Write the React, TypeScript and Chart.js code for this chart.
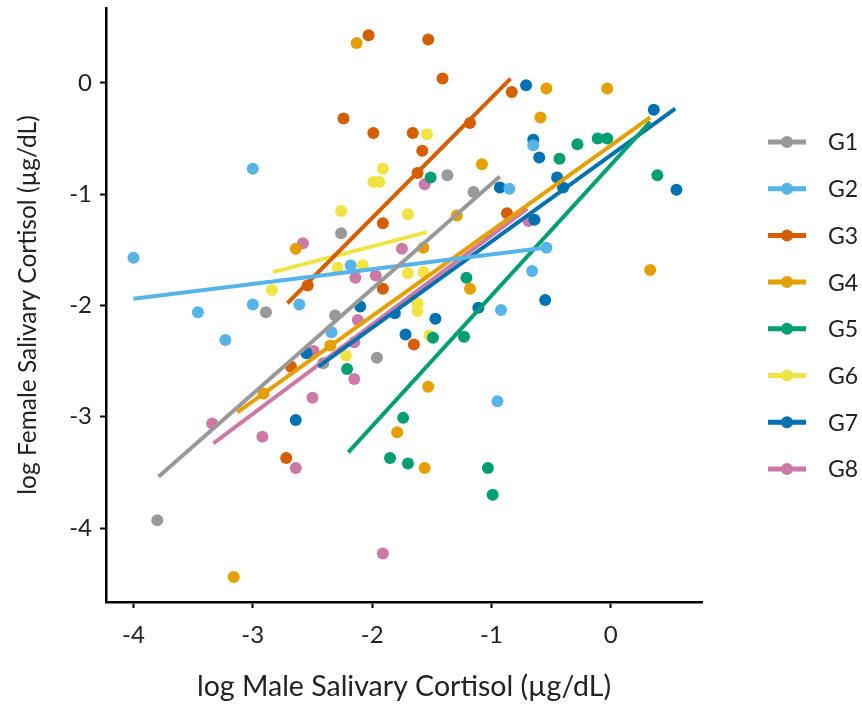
import React, { useEffect, useRef } from "react";
import { Chart, registerables } from "chart.js";

Chart.register(...registerables);

const groups = ["G1", "G2", "G3", "G4", "G5", "G6", "G7", "G8"];
const colors = ["#999999", "#56B4E9", "#D55E00", "#E69F00", "#009E73", "#F0E442", "#0072B2", "#CC79A7"];

const g1X = [-3.80, -2.89, -2.31, -2.41, -2.26, -1.37, -1.15, -1.96];
const g1Y = [-3.93, -2.06, -2.09, -2.52, -1.35, -0.83, -0.98, -2.47];
const g2X = [-3.00, -4.00, -3.46, -3.23, -3.00, -2.61, -2.34, -2.18, -0.85, -0.66, -0.54, -0.92, -0.95, -0.65];
const g2Y = [-0.77, -1.57, -2.06, -2.31, -1.99, -1.99, -2.24, -1.64, -0.95, -1.69, -1.48, -2.04, -2.86, -0.56];
const g3X = [-2.03, -1.53, -1.41, -2.24, -1.99, -1.66, -1.58, -1.18, -0.83, -1.62, -1.91, -0.87, -1.91, -2.54, -2.68, -1.65, -2.72];
const g3Y = [0.43, 0.39, 0.04, -0.32, -0.45, -0.45, -0.61, -0.36, -0.08, -0.81, -1.26, -1.17, -1.85, -1.82, -2.55, -2.35, -3.37];
const g4X = [-2.13, -0.54, -0.03, -0.59, -1.08, -2.64, 0.33, -1.18, -2.35, -2.91, -1.53, -1.79, -1.56, -3.16, -1.29, -1.57];
const g4Y = [0.36, -0.05, -0.05, -0.31, -0.73, -1.49, -1.68, -1.85, -2.36, -2.79, -2.73, -3.14, -3.46, -4.44, -1.19, -1.48];
const g5X = [-0.28, -0.11, -0.03, -0.43, 0.39, -1.51, -1.21, -1.23, -1.49, -2.21, -1.74, -1.85, -1.70, -1.03, -0.99];
const g5Y = [-0.55, -0.50, -0.50, -0.68, -0.83, -0.85, -1.75, -2.28, -2.29, -2.57, -3.01, -3.37, -3.42, -3.46, -3.70];
const g6X = [-2.26, -1.54, -1.91, -1.99, -1.94, -1.70, -2.84, -2.29, -2.08, -1.70, -1.62, -1.62, -1.52, -2.22, -1.57];
const g6Y = [-1.15, -0.46, -0.77, -0.89, -0.89, -1.18, -1.86, -1.66, -1.64, -1.71, -1.98, -2.05, -2.27, -2.45, -1.70];
const g7X = [-0.71, 0.36, -0.65, -0.60, -0.45, -0.40, 0.55, -0.64, -0.93, -0.55, -1.11, -1.47, -1.72, -1.81, -2.10, -2.55, -2.64];
const g7Y = [-0.02, -0.24, -0.51, -0.67, -0.85, -0.94, -0.96, -1.23, -0.94, -1.95, -2.02, -2.12, -2.26, -2.07, -2.01, -2.43, -3.03];
const g8X = [-2.58, -1.56, -1.75, -0.69, -2.14, -1.97, -2.12, -2.15, -2.49, -2.15, -2.50, -3.34, -2.64, -2.92, -1.91];
const g8Y = [-1.44, -0.91, -1.49, -1.24, -1.75, -1.73, -2.13, -2.33, -2.41, -2.66, -2.83, -3.06, -3.46, -3.18, -4.23];

const pointsX = [g1X, g2X, g3X, g4X, g5X, g6X, g7X, g8X];
const pointsY = [g1Y, g2Y, g3Y, g4Y, g5Y, g6Y, g7Y, g8Y];

// regression line end points per group
const fitX0 = [-3.79, -4.00, -2.71, -3.13, -2.20, -2.83, -2.45, -3.33];
const fitY0 = [-3.54, -1.94, -1.98, -2.96, -3.32, -1.70, -2.55, -3.24];
const fitX1 = [-0.93, -0.55, -0.84, 0.33, 0.33, -1.54, 0.54, -0.70];
const fitY1 = [-0.84, -1.48, 0.04, -0.31, -0.35, -1.34, -0.23, -1.13];

const xTicks = [-4, -3, -2, -1, 0];
const yTicks = [0, -1, -2, -3, -4];

const FONT = "Lato";
const TEXT = "#222222";

const legendPlugin = {
  id: "customLegend",
  afterDraw(chart: any) {
    const ctx = chart.ctx;
    ctx.save();
    groups.forEach((g, i) => {
      const y = 142 + i * 46.7;
      ctx.strokeStyle = colors[i];
      ctx.lineWidth = 5;
      ctx.beginPath();
      ctx.moveTo(768, y);
      ctx.lineTo(806, y);
      ctx.stroke();
      ctx.fillStyle = colors[i];
      ctx.beginPath();
      ctx.arc(787, y, 6, 0, Math.PI * 2);
      ctx.fill();
      ctx.fillStyle = TEXT;
      ctx.font = `23px ${FONT}`;
      ctx.textBaseline = "middle";
      ctx.textAlign = "left";
      ctx.fillText(g, 828, y + 1);
    });
    ctx.restore();
  },
};

export default function App() {
  const ref = useRef<HTMLCanvasElement | null>(null);
  useEffect(() => {
    if (!ref.current) return;
    const datasets: any[] = [];
    groups.forEach((g, i) => {
      datasets.push({
        type: "line",
        label: g + " fit",
        data: [
          { x: fitX0[i], y: fitY0[i] },
          { x: fitX1[i], y: fitY1[i] },
        ],
        borderColor: colors[i],
        borderWidth: 4,
        pointRadius: 0,
        fill: false,
        order: 0,
      });
    });
    groups.forEach((g, i) => {
      datasets.push({
        type: "scatter",
        label: g,
        data: pointsX[i].map((x, k) => ({ x, y: pointsY[i][k] })),
        backgroundColor: colors[i],
        borderWidth: 0,
        pointRadius: 6,
        order: 1,
      });
    });
    const chart = new Chart(ref.current, {
      type: "scatter",
      data: { datasets },
      options: {
        animation: false,
        responsive: false,
        layout: { padding: { left: 0, right: 160, top: 8, bottom: 0 } },
        plugins: { legend: { display: false }, tooltip: { enabled: false } },
        scales: {
          x: {
            type: "linear",
            min: -4.23,
            max: 0.764,
            afterBuildTicks: (s: any) => {
              s.ticks = xTicks.map((v) => ({ value: v }));
            },
            afterFit: (s: any) => {
              s.height = 102;
              s.paddingLeft = 0;
              s.paddingRight = 0;
            },
            border: { display: true, color: "#000", width: 2.5 },
            grid: { drawOnChartArea: false, color: "#000", tickLength: 6, tickWidth: 2 },
            ticks: { color: TEXT, font: { family: FONT, size: 24 }, padding: 13 },
            title: {
              display: true,
              text: "log Male Salivary Cortisol (µg/dL)",
              color: TEXT,
              font: { family: FONT, size: 28.5 },
              padding: { top: 0, bottom: 0 },
            },
          },
          y: {
            type: "linear",
            min: -4.665,
            max: 0.674,
            afterBuildTicks: (s: any) => {
              s.ticks = yTicks.map((v) => ({ value: v }));
            },
            afterFit: (s: any) => {
              s.width = 106;
              s.paddingTop = 0;
              s.paddingBottom = 0;
            },
            border: { display: true, color: "#000", width: 2.5 },
            grid: { drawOnChartArea: false, color: "#000", tickLength: 6, tickWidth: 2 },
            ticks: { color: TEXT, font: { family: FONT, size: 24 }, padding: 8 },
            title: {
              display: true,
              text: "log Female Salivary Cortisol (µg/dL)",
              color: TEXT,
              font: { family: FONT, size: 24.5 },
              padding: { top: 13, bottom: 0 },
            },
          },
        },
      },
      plugins: [legendPlugin],
    });
    return () => chart.destroy();
  }, []);
  return (
    <div style={{ position: "fixed", left: 0, top: 0, width: 862, height: 704, background: "#fff" }}>
      <canvas ref={ref} width={862} height={704} />
    </div>
  );
}
